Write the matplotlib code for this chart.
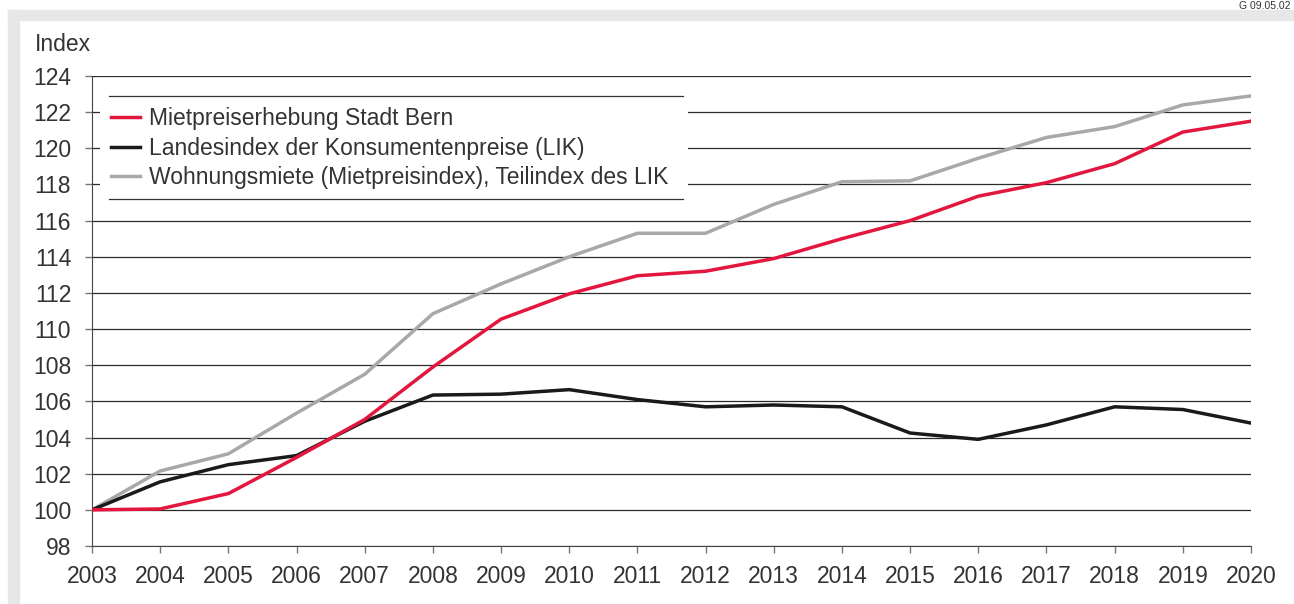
import matplotlib.pyplot as plt
from matplotlib.patches import Rectangle
from matplotlib.lines import Line2D

# data
years = list(range(2003, 2021))
bern = [100.0, 100.05, 100.9, 102.9, 105.0, 107.9, 110.55, 111.95, 112.95, 113.2,
        113.9, 115.0, 116.0, 117.35, 118.1, 119.15, 120.9, 121.5]
lik = [100.0, 101.55, 102.5, 103.0, 104.9, 106.35, 106.4, 106.65, 106.1, 105.7,
       105.8, 105.7, 104.25, 103.9, 104.7, 105.7, 105.55, 104.8]
miete = [100.0, 102.15, 103.1, 105.35, 107.5, 110.85, 112.5, 114.0, 115.3, 115.3,
         116.9, 118.15, 118.2, 119.45, 120.6, 121.2, 122.4, 122.9]

labels = ['Mietpreiserhebung Stadt Bern',
          'Landesindex der Konsumentenpreise (LIK)',
          'Wohnungsmiete (Mietpreisindex), Teilindex des LIK']
colors = ['#e3173e', '#1a1a1a', '#a8a8a8']

plt.rcParams['font.family'] = ['Liberation Sans', 'DejaVu Sans']
txt = '#333333'

W, H = 1294, 604
fig = plt.figure(figsize=(W / 100, H / 100), dpi=100)

# grey frame of the page
bg = '#e6e7e9'
fig.patches.append(Rectangle((8 / W, 1 - 20 / H), 1, 10 / H,
                             transform=fig.transFigure, color=bg, zorder=0))
fig.patches.append(Rectangle((8 / W, 0), 11 / W, 1 - 10 / H,
                             transform=fig.transFigure, color=bg, zorder=0))
fig.text(0.997, 0.999, 'G 09.05.02', ha='right', va='top', fontsize=7.5, color=txt)

ax = fig.add_axes([92 / W, 1 - 546 / H, (1251 - 92) / W, (546 - 76) / H])
ax.set_facecolor('none')

z = [4, 3, 2]
for vals, c, lab, zz in zip([bern, lik, miete], colors, labels, z):
    ax.plot(years, vals, color=c, lw=2.5, label=lab, zorder=zz)

ax.set_xlim(2003, 2020)
ax.set_ylim(98, 124)
ax.set_xticks(years)
ax.set_yticks(range(98, 125, 2))
ax.grid(axis='y', color='#2a2a2a', lw=0.9)
ax.set_axisbelow(True)
for s in ['top', 'right']:
    ax.spines[s].set_visible(False)
ax.spines['left'].set_color('#444444')
ax.spines['bottom'].set_color('#444444')
ax.tick_params(length=5, width=1, color='#777777', labelcolor=txt, labelsize=16.5)
ax.tick_params(axis='y', pad=10)
ax.tick_params(axis='x', pad=9)
fig.text(35 / W, 1 - 51 / H, 'Index', fontsize=16.5, color=txt, va='baseline')

# white panel behind the legend, with rules above and below
px = lambda x: (x - 92) / 1159
py = lambda y: (546 - y) / 470
ax.add_patch(Rectangle((px(100), py(199)), px(688) - px(100), py(96) - py(199),
                       transform=ax.transAxes, facecolor='white', edgecolor='none',
                       zorder=1.5))
for yy in [py(96), py(199)]:
    ax.add_line(Line2D([px(109), px(683)], [yy, yy], transform=ax.transAxes,
                       color='#333333', lw=0.9, zorder=6))

leg = ax.legend(loc='upper left', bbox_to_anchor=(px(111), py(107)), frameon=False,
                fontsize=16.5, handlelength=1.26, handletextpad=0.39, labelspacing=0.29,
                borderpad=0, borderaxespad=0, labelcolor=txt)
leg.set_zorder(6)

fig.savefig('out.png', dpi=100)
